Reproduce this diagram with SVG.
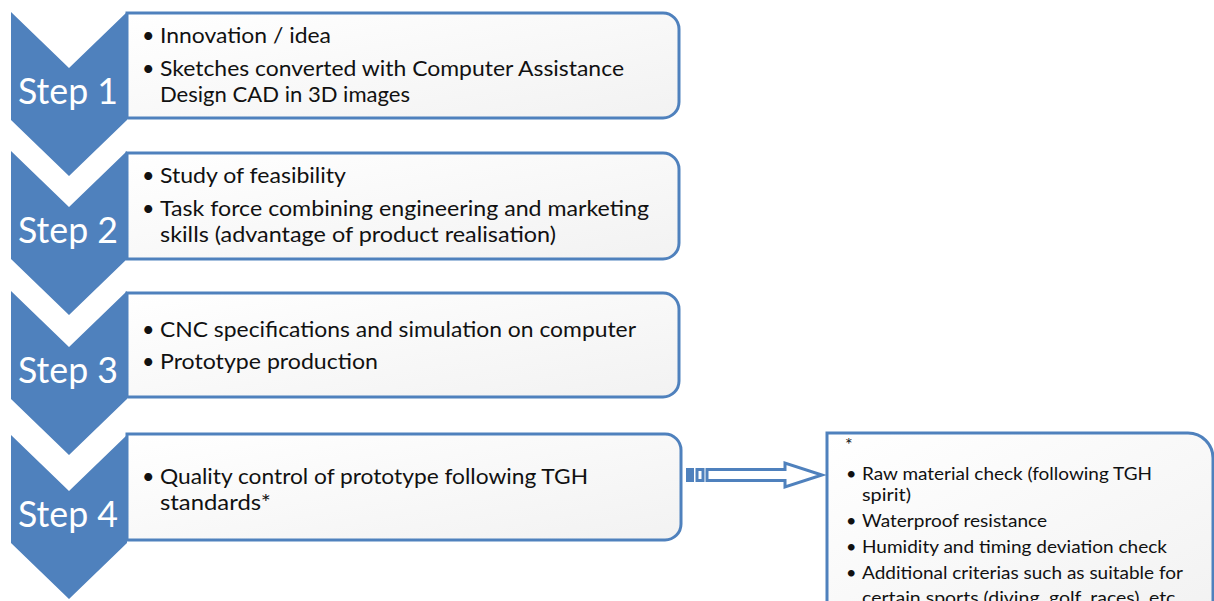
<svg xmlns="http://www.w3.org/2000/svg" width="1214" height="601" viewBox="0 0 1214 601">
  <defs>
    <linearGradient id="boxFill" x1="0" y1="0" x2="1" y2="1">
      <stop offset="0" stop-color="#ffffff"/>
      <stop offset="1" stop-color="#f2f2f2"/>
    </linearGradient>
    <style>
      .chev { fill: #4f81bd; }
      .box { fill: url(#boxFill); stroke: #4f81bd; stroke-width: 3; }
      .step { font-family: Lato, "Liberation Sans", sans-serif; font-size: 37px; fill: #ffffff; text-anchor: middle; }
      .txt { font-family: Lato, "Liberation Sans", sans-serif; font-size: 21.5px; fill: #111111; }
      .small { font-family: Lato, "Liberation Sans", sans-serif; font-size: 18px; fill: #111111; }
      .arrow { fill: #ffffff; stroke: #4f81bd; stroke-width: 3; stroke-linejoin: miter; }
    </style>
  </defs>

  <rect width="1214" height="601" fill="#ffffff"/>

  <!-- Step 1 -->
  <g id="step1">
    <path class="box" d="M127,13 H663 A16,16 0 0 1 679,29 V102 A16,16 0 0 1 663,118 H127 Z"/>
    <path class="chev" d="M11,12 L69,68 L127,12 L127,120 L69,176 L11,120 Z"/>
    <text class="step" x="68" y="104" textLength="100" lengthAdjust="spacingAndGlyphs">Step 1</text>
    <text class="txt" x="142" y="43">•</text>
    <text class="txt" x="160" y="43" textLength="171" lengthAdjust="spacingAndGlyphs">Innovation / idea</text>
    <text class="txt" x="142" y="76">•</text>
    <text class="txt" x="160" y="76" textLength="464" lengthAdjust="spacingAndGlyphs">Sketches converted with Computer Assistance</text>
    <text class="txt" x="160" y="102" textLength="250" lengthAdjust="spacingAndGlyphs">Design CAD in 3D images</text>
  </g>

  <!-- Step 2 -->
  <g id="step2">
    <path class="box" d="M127,153 H663 A16,16 0 0 1 679,169 V243 A16,16 0 0 1 663,259 H127 Z"/>
    <path class="chev" d="M11,151 L69,207 L127,151 L127,259 L69,315 L11,259 Z"/>
    <text class="step" x="68" y="243" textLength="100" lengthAdjust="spacingAndGlyphs">Step 2</text>
    <text class="txt" x="142" y="183">•</text>
    <text class="txt" x="160" y="183" textLength="186" lengthAdjust="spacingAndGlyphs">Study of feasibility</text>
    <text class="txt" x="142" y="216">•</text>
    <text class="txt" x="160" y="216" textLength="489" lengthAdjust="spacingAndGlyphs">Task force combining engineering and marketing</text>
    <text class="txt" x="160" y="242" textLength="396" lengthAdjust="spacingAndGlyphs">skills (advantage of product realisation)</text>
  </g>

  <!-- Step 3 -->
  <g id="step3">
    <path class="box" d="M127,293 H663 A16,16 0 0 1 679,309 V381 A16,16 0 0 1 663,397 H127 Z"/>
    <path class="chev" d="M11,291 L69,347 L127,291 L127,399 L69,455 L11,399 Z"/>
    <text class="step" x="68" y="383" textLength="100" lengthAdjust="spacingAndGlyphs">Step 3</text>
    <text class="txt" x="142" y="337">•</text>
    <text class="txt" x="160" y="337" textLength="476" lengthAdjust="spacingAndGlyphs">CNC specifications and simulation on computer</text>
    <text class="txt" x="142" y="369">•</text>
    <text class="txt" x="160" y="369" textLength="218" lengthAdjust="spacingAndGlyphs">Prototype production</text>
  </g>

  <!-- Step 4 -->
  <g id="step4">
    <path class="box" d="M127,434 H665 A16,16 0 0 1 681,450 V524 A16,16 0 0 1 665,540 H127 Z"/>
    <path class="chev" d="M11,435 L69,491 L127,435 L127,543 L69,599 L11,543 Z"/>
    <text class="step" x="68" y="527" textLength="100" lengthAdjust="spacingAndGlyphs">Step 4</text>
    <text class="txt" x="142" y="484">•</text>
    <text class="txt" x="160" y="484" textLength="428" lengthAdjust="spacingAndGlyphs">Quality control of prototype following TGH</text>
    <text class="txt" x="160" y="510" textLength="111" lengthAdjust="spacingAndGlyphs">standards*</text>
  </g>

  <!-- Quality criteria panel (runs past the lower edge) -->
  <g id="criteria">
    <path class="box" d="M827,620 V433 H1188 A25,25 0 0 1 1213,458 V620"/>
    <text class="small" x="845" y="451">*</text>
    <text class="small" x="846" y="480">•</text>
    <text class="small" x="862" y="480" textLength="290" lengthAdjust="spacingAndGlyphs">Raw material check (following TGH</text>
    <text class="small" x="862" y="501" textLength="49" lengthAdjust="spacingAndGlyphs">spirit)</text>
    <text class="small" x="846" y="527">•</text>
    <text class="small" x="862" y="527" textLength="185" lengthAdjust="spacingAndGlyphs">Waterproof resistance</text>
    <text class="small" x="846" y="553">•</text>
    <text class="small" x="862" y="553" textLength="305" lengthAdjust="spacingAndGlyphs">Humidity and timing deviation check</text>
    <text class="small" x="846" y="579">•</text>
    <text class="small" x="862" y="579" textLength="321" lengthAdjust="spacingAndGlyphs">Additional criterias such as suitable for</text>
    <text class="small" x="862" y="604" textLength="318" lengthAdjust="spacingAndGlyphs">certain sports (diving, golf, races), etc.</text>
  </g>

  <!-- Connector: striped block arrow from step 4 to the criteria panel -->
  <g id="connectors">
    <rect x="686" y="468" width="8" height="14" fill="#4f81bd"/>
    <rect x="697" y="469.5" width="6" height="11" class="arrow"/>
    <path class="arrow" d="M707,469.5 H785 V463 L822,475 L785,487 V480.5 H707 Z"/>
  </g>
</svg>
